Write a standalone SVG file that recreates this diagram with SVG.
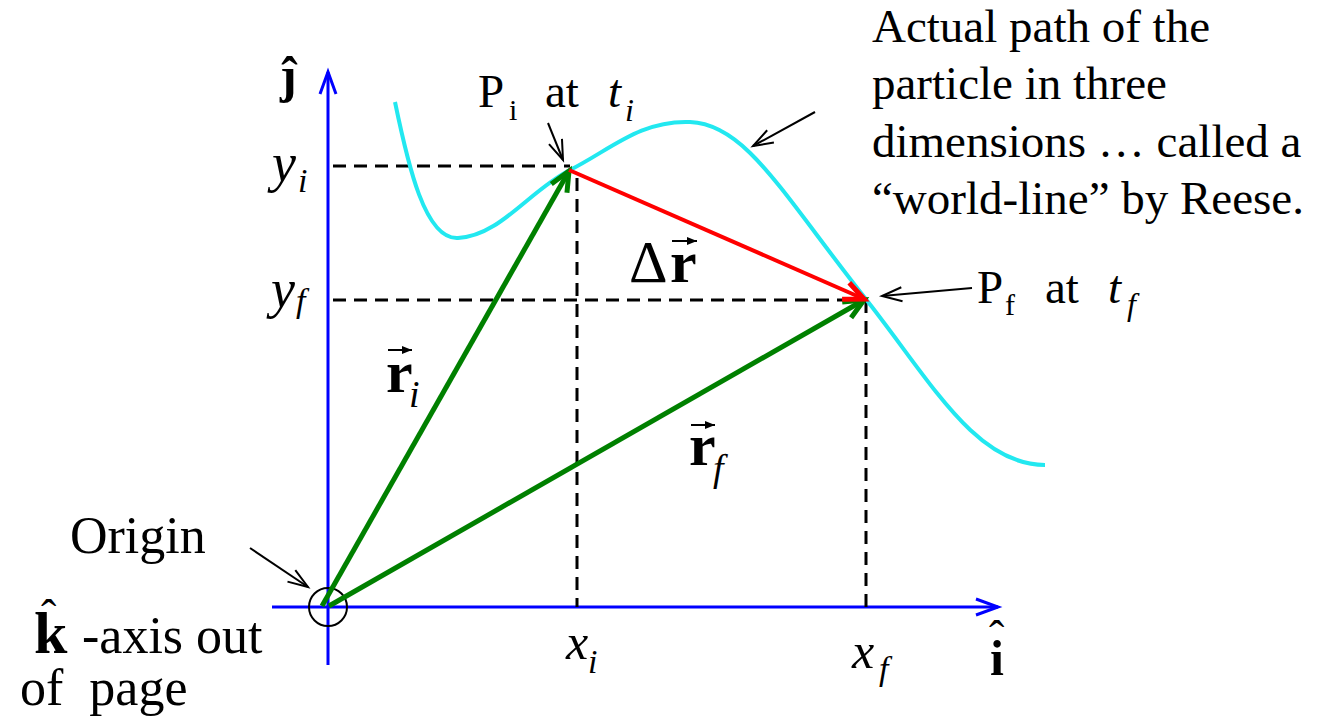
<svg xmlns="http://www.w3.org/2000/svg" width="1326" height="728" viewBox="0 0 1326 728">
<style>
text{font-family:"Liberation Serif","Times New Roman","DejaVu Serif",serif;fill:#000}
.it{font-style:italic}
.b{font-weight:bold}
.dash{stroke:#000;stroke-width:3;stroke-dasharray:13 8;fill:none}
.thin{stroke:#000;stroke-width:2;fill:none}
</style>
<defs>
<marker id="ab" markerUnits="userSpaceOnUse" markerWidth="40" markerHeight="40" viewBox="-30 -15 40 30" refX="0" refY="0" orient="auto" overflow="visible">
<path d="M-22,-8 L0,0 L-22,8" fill="none" stroke="#0000FF" stroke-width="3"/>
</marker>
<marker id="ak" markerUnits="userSpaceOnUse" markerWidth="40" markerHeight="40" viewBox="-30 -15 40 30" refX="0" refY="0" orient="auto" overflow="visible">
<path d="M-20,-7 L0,0 L-20,7" fill="none" stroke="#000" stroke-width="2"/>
</marker>
<marker id="ag" markerUnits="userSpaceOnUse" markerWidth="40" markerHeight="40" viewBox="-30 -15 40 30" refX="0" refY="0" orient="auto" overflow="visible">
<path d="M-20,-9 L0,0 L-20,9" fill="none" stroke="#008000" stroke-width="5"/>
</marker>
<marker id="ar" markerUnits="userSpaceOnUse" markerWidth="40" markerHeight="40" viewBox="-30 -15 40 30" refX="0" refY="0" orient="auto" overflow="visible">
<path d="M-20,-9 L0,0 L-20,9" fill="none" stroke="#FF0000" stroke-width="5"/>
</marker>
<marker id="av" markerUnits="userSpaceOnUse" markerWidth="20" markerHeight="20" viewBox="-15 -8 20 16" refX="0" refY="0" orient="auto" overflow="visible">
<path d="M-10,-4 L0,0 L-10,4 Z" fill="#000"/>
</marker>
</defs>

<g id="axes">
<line x1="328" y1="665" x2="328" y2="72" stroke="#0000FF" stroke-width="3" marker-end="url(#ab)"/>
<line x1="272" y1="607" x2="998" y2="607" stroke="#0000FF" stroke-width="3" marker-end="url(#ab)"/>
<circle cx="328" cy="607" r="19" fill="none" stroke="#000" stroke-width="2"/>
</g>

<g id="guides">
<line class="dash" x1="333" y1="166" x2="570" y2="166"/>
<line class="dash" x1="577" y1="178" x2="577" y2="607"/>
<line class="dash" x1="333" y1="300" x2="866" y2="300"/>
<line class="dash" x1="866" y1="300" x2="866" y2="607"/>
</g>

<g id="path-curve">
<path d="M395,102 C408,165 425,240 458,238 C500,236 530,190 570,170 C610,150 640,120 690,122 C745,124 780,190 865,298 C930,380 975,465 1045,465" fill="none" stroke="#22E8F0" stroke-width="4"/>
</g>

<g id="connectors">
<line x1="322" y1="606" x2="569" y2="171" stroke="#008000" stroke-width="5" marker-end="url(#ag)"/>
<line x1="329" y1="606" x2="864" y2="300" stroke="#008000" stroke-width="5" marker-end="url(#ag)"/>
<line x1="569" y1="170" x2="864" y2="299" stroke="#FF0000" stroke-width="4" marker-end="url(#ar)"/>
<line class="thin" x1="815" y1="112" x2="753" y2="146" marker-end="url(#ak)"/>
<line class="thin" x1="548" y1="123" x2="563" y2="160" marker-end="url(#ak)"/>
<line class="thin" x1="972" y1="288" x2="882" y2="296" marker-end="url(#ak)"/>
<line class="thin" x1="250" y1="548" x2="308" y2="587" marker-end="url(#ak)"/>
</g>

<g id="label-worldline">
<text font-size="47" x="872" y="42">Actual path of the</text>
<text font-size="47" x="872" y="99">particle in three</text>
<text font-size="47" x="872" y="157">dimensions … called a</text>
<text font-size="47" x="872" y="214">“world-line” by Reese.</text>
</g>

<g id="label-pi">
<text font-size="47" x="478" y="107">P</text>
<text font-size="30" x="509" y="120">i</text>
<text font-size="47" x="545" y="107">at</text>
<text class="it" font-size="47" x="608" y="107">t</text>
<text class="it" font-size="32" x="625" y="121">i</text>
</g>

<g id="label-pf">
<text font-size="47" x="977" y="303">P</text>
<text font-size="30" x="1005" y="315">f</text>
<text font-size="47" x="1045" y="303">at</text>
<text class="it" font-size="47" x="1108" y="303">t</text>
<text class="it" font-size="32" x="1127" y="315">f</text>
</g>

<g id="label-origin">
<text font-size="52" x="70" y="553">Origin</text>
</g>

<g id="label-k">
<text class="b" font-size="60" x="34" y="653">k</text>
<text font-size="46" x="41" y="632">ˆ</text>
<text font-size="52" x="82" y="653">-axis out</text>
<text font-size="52" x="20" y="705" xml:space="preserve">of  page</text>
</g>

<g id="label-j">
<text class="b" font-size="50" x="280" y="92">ĵ</text>
</g>

<g id="label-i">
<text class="b" font-size="50" x="990" y="675">i</text>
<text font-size="46" x="989" y="653">ˆ</text>
</g>

<g id="label-xy">
<text class="it" font-size="50" x="566" y="659">x</text>
<text class="it" font-size="34" x="588" y="673">i</text>
<text class="it" font-size="50" x="852" y="668">x</text>
<text class="it" font-size="34" x="879" y="680">f</text>
<text class="it" font-size="54" x="272" y="181">y</text>
<text class="it" font-size="34" x="298" y="192">i</text>
<text class="it" font-size="54" x="271" y="307">y</text>
<text class="it" font-size="34" x="296" y="312">f</text>
</g>

<g id="label-dr">
<text font-size="60" x="629" y="282">Δ</text>
<text class="b" font-size="60" x="670" y="282">r</text>
<line x1="672" y1="241" x2="697" y2="241" stroke="#000" stroke-width="2" marker-end="url(#av)"/>
</g>

<g id="label-ri">
<text class="b" font-size="60" x="386" y="392">r</text>
<line x1="388" y1="350" x2="412" y2="350" stroke="#000" stroke-width="2" marker-end="url(#av)"/>
<text class="it" font-size="38" x="409" y="407">i</text>
</g>

<g id="label-rf">
<text class="b" font-size="60" x="689" y="465">r</text>
<line x1="691" y1="425" x2="715" y2="425" stroke="#000" stroke-width="2" marker-end="url(#av)"/>
<text class="it" font-size="38" x="713" y="481">f</text>
</g>
</svg>
